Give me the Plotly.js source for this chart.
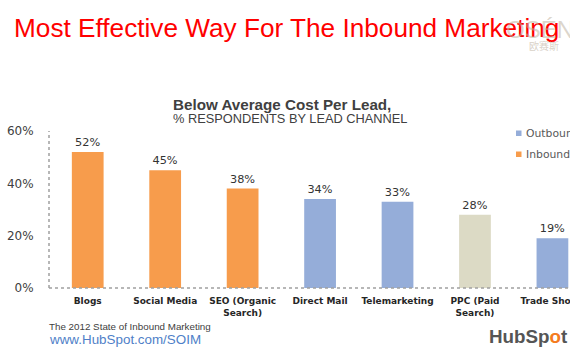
<!DOCTYPE html>
<html>
<head>
<meta charset="utf-8">
<script src="https://cdn.plot.ly/plotly-3.0.1.min.js"></script>
<style>
html,body{margin:0;padding:0;overflow:hidden;background:#fff;width:570px;height:360px;}
#chart{width:570px;height:360px;overflow:hidden;}
</style>
</head>
<body>
<div id="chart"></div>
<script>
const categories = ["Blogs", "Social Media", "SEO (Organic<br>Search)", "Direct Mail", "Telemarketing", "PPC (Paid<br>Search)", "Trade Shows"];
const values = [52, 45, 38, 34, 33, 28, 19];
const groups = ["Inbound", "Inbound", "Inbound", "Outbound", "Outbound", "Other", "Outbound"];
const legendNames = ["Outbound", "Inbound"];
const yTicks = [0, 20, 40, 60];
const yTickText = ["0%", "20%", "40%", "60%"];

const colors = {Outbound: "#95ADD9", Inbound: "#F79C4C", Other: "#DCDAC5"};
const order = ["Outbound", "Inbound", "Other"];

const traces = order.map((g, i) => {
  const xs = [], ys = [];
  categories.forEach((c, k) => { if (groups[k] === g) { xs.push(c); ys.push(values[k]); } });
  return {
    type: "bar", name: g, x: xs, y: ys,
    width: 0.41,
    marker: {color: colors[g]},
    text: ys.map(v => v + "%"),
    textposition: "outside",
    cliponaxis: false,
    textfont: {family: "DejaVu Sans", size: 11.3, color: "#333333"},
    showlegend: false,
    hoverinfo: "x+y"
  };
});

// plot area: x 49..570 px, y 131..288 px
const PL = 49, PW = 521, PT = 131, PH = 157;
const px = v => (v - PL) / PW;
const py = v => (PT + PH - v) / PH;

const legendShapes = [], legendAnns = [];
legendNames.forEach((n, i) => {
  const cy = 133 + i * 21;
  legendShapes.push({type: "rect", xref: "paper", yref: "paper",
    x0: px(516), x1: px(521.5), y0: py(cy + 3), y1: py(cy - 2.5),
    fillcolor: colors[n], line: {width: 0}});
  legendAnns.push({text: n, xref: "paper", yref: "paper", x: px(524), y: py(cy),
    xanchor: "left", yanchor: "middle", showarrow: false,
    font: {family: "DejaVu Sans", size: 10.8, color: "#595959"}});
});

const layout = {
  width: 570, height: 360,
  margin: {l: PL, r: 0, t: PT, b: 360 - PT - PH, autoexpand: false},
  paper_bgcolor: "#ffffff", plot_bgcolor: "#ffffff",
  barmode: "overlay",
  showlegend: false,
  title: {
    text: "Most Effective Way For The Inbound Marketing",
    font: {family: "Liberation Sans, Arial", size: 26.2, color: "#FF0000"},
    x: 14/570, xanchor: "left", xref: "container",
    y: 1 - 28/360, yanchor: "middle", yref: "container"
  },
  xaxis: {
    type: "category", categoryorder: "array", categoryarray: categories,
    range: [-0.5, -0.5 + PW / 77.45], showgrid: false, zeroline: false, showline: false,
    automargin: false,
    ticks: "outside", ticklen: 4, tickcolor: "rgba(0,0,0,0)",
    tickfont: {family: "DejaVu Sans", size: 9, color: "#262626", weight: "bold"},
    fixedrange: true
  },
  yaxis: {
    range: [0, 60], tickvals: yTicks, ticktext: yTickText,
    showgrid: false, zeroline: false, showline: false, automargin: false,
    ticks: "outside", ticklen: 12, tickcolor: "rgba(0,0,0,0)",
    tickfont: {family: "DejaVu Sans", size: 12, color: "#404040"},
    fixedrange: true
  },
  shapes: [
    {type: "line", xref: "paper", yref: "paper", x0: 0, x1: 0, y0: 0, y1: 1,
     line: {color: "#a0a0a0", width: 1.5, dash: "dot"}},
    {type: "line", xref: "paper", yref: "paper", x0: 0, x1: 1, y0: 0, y1: 0,
     line: {color: "#a0a0a0", width: 1.5, dash: "dot"}}
  ].concat(legendShapes),
  annotations: [
    {text: "OSÉN", xref: "paper", yref: "paper", x: px(504), y: py(30),
     xanchor: "left", yanchor: "middle", showarrow: false,
     font: {family: "Liberation Sans", size: 24, color: "rgba(190,178,160,0.55)"}},
    {text: "欧赛斯", xref: "paper", yref: "paper", x: px(527), y: py(46),
     xanchor: "left", yanchor: "middle", showarrow: false,
     font: {family: "Noto Sans CJK SC", size: 10, color: "rgba(190,178,160,0.6)"}},
    {text: "<b>Below Average Cost Per Lead,</b>", xref: "paper", yref: "paper",
     x: px(171), y: py(104), xanchor: "left", yanchor: "middle", showarrow: false,
     font: {family: "Liberation Sans, Arial", size: 15.2, color: "#404040"}},
    {text: "% RESPONDENTS BY LEAD CHANNEL", xref: "paper", yref: "paper",
     x: px(171), y: py(118), xanchor: "left", yanchor: "middle", showarrow: false,
     font: {family: "Liberation Sans, Arial", size: 12.8, color: "#404040"}},
    {text: "The 2012 State of Inbound Marketing", xref: "paper", yref: "paper",
     x: px(47), y: py(326), xanchor: "left", yanchor: "middle", showarrow: false,
     font: {family: "Liberation Sans, Arial", size: 9.8, color: "#404040"}},
    {text: "www.HubSpot.com/SOIM", xref: "paper", yref: "paper",
     x: px(47), y: py(339), xanchor: "left", yanchor: "middle", showarrow: false,
     font: {family: "Liberation Sans, Arial", size: 13.4, color: "#4F7FC8"}},
    {text: "<b>HubSp<span style='color:#F47B20'>o</span>t</b>", xref: "paper", yref: "paper",
     x: px(487), y: py(336), xanchor: "left", yanchor: "middle", showarrow: false,
     font: {family: "Liberation Sans, Arial", size: 18.8, color: "#555555"}}
  ].concat(legendAnns)
};

Plotly.newPlot("chart", traces, layout, {displayModeBar: false, staticPlot: true});
</script>
</body>
</html>
